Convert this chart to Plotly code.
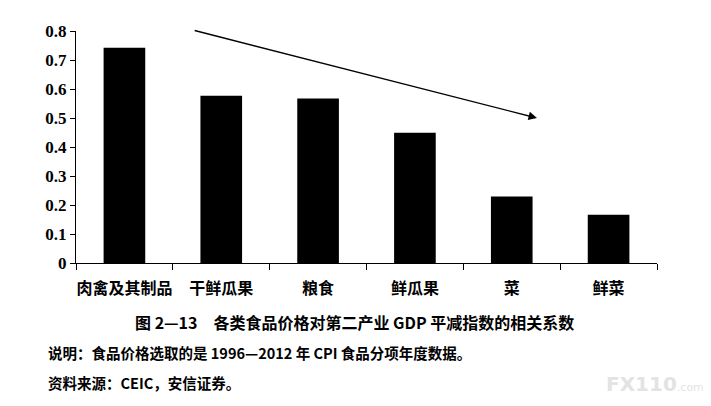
import plotly.graph_objects as go

categories = ["肉禽及其制品", "干鲜瓜果", "粮食", "鲜瓜果", "菜", "鲜菜"]
values = [0.742, 0.577, 0.567, 0.449, 0.229, 0.166]
y_ticks = [0, 0.1, 0.2, 0.3, 0.4, 0.5, 0.6, 0.7, 0.8]
y_tick_text = ["0", "0.1", "0.2", "0.3", "0.4", "0.5", "0.6", "0.7", "0.8"]
arrow_start = (0.71, 0.803)
arrow_end = (4.26, 0.50)

title_text = "图 2—13　各类食品价格对第二产业 GDP 平减指数的相关系数"
note_text = "说明：食品价格选取的是 1996—2012 年 CPI 食品分项年度数据。"
source_text = "资料来源：CEIC，安信证券。"

CJK = "Noto Sans CJK SC"
SERIF = "Liberation Serif"

fig = go.Figure()
fig.add_trace(go.Bar(
    x=categories, y=values,
    marker=dict(color="black", line=dict(width=0)),
    width=0.43,
))

fig.add_annotation(
    x=arrow_end[0], y=arrow_end[1], ax=arrow_start[0], ay=arrow_start[1],
    xref="x", yref="y", axref="x", ayref="y",
    showarrow=True, arrowhead=2, arrowsize=1.2, arrowwidth=1.4,
    arrowcolor="black", text="",
)

fig.add_annotation(
    text="<b>" + title_text + "</b>", xref="paper", yref="paper",
    x=0.479, y=-0.254, xanchor="center", yanchor="middle", showarrow=False,
    font=dict(family=CJK, size=16, color="black"),
)
fig.add_annotation(
    text="<b>" + note_text + "</b>", xref="paper", yref="paper",
    x=-0.052, y=-0.384, xanchor="left", yanchor="middle", showarrow=False,
    font=dict(family=CJK, size=14.5, color="black"),
)
fig.add_annotation(
    text="<b>" + source_text + "</b>", xref="paper", yref="paper",
    x=-0.052, y=-0.513, xanchor="left", yanchor="middle", showarrow=False,
    font=dict(family=CJK, size=14.5, color="black"),
)
fig.add_annotation(
    text="<b>FX110</b><span style='font-size:11px'>.com</span>", xref="paper", yref="paper",
    x=1.085, y=-0.52, xanchor="right", yanchor="middle", showarrow=False,
    font=dict(family="DejaVu Sans", size=20, color="#e3e3e3"),
)

fig.update_layout(
    width=695, height=390,
    margin=dict(l=68, r=46, t=23, b=135, autoexpand=False),
    paper_bgcolor="white", plot_bgcolor="white",
    showlegend=False,
    bargap=0.57,
)
fig.update_xaxes(
    type="category", range=[-0.5, 5.5], automargin=False,
    showline=True, linecolor="black", linewidth=1.2,
    ticks="outside", tickson="boundaries", ticklen=6, tickcolor="black", tickwidth=1.2,
    tickangle=0, ticklabelstandoff=11,
    tickfont=dict(family=CJK, size=16, color="black"),
    tickprefix="<b>", ticksuffix="</b>",
    showgrid=False, zeroline=False, fixedrange=True,
)
fig.update_yaxes(
    range=[0, 0.8], tickvals=y_ticks, automargin=False,
    ticktext=["<b>" + t + "</b>" for t in y_tick_text],
    showline=True, linecolor="black", linewidth=1.2,
    ticks="outside", ticklen=5, tickcolor="black", tickwidth=1.2,
    tickfont=dict(family=SERIF, size=17, color="black"),
    showgrid=False, zeroline=False, fixedrange=True,
)

fig.write_html("out.html")
